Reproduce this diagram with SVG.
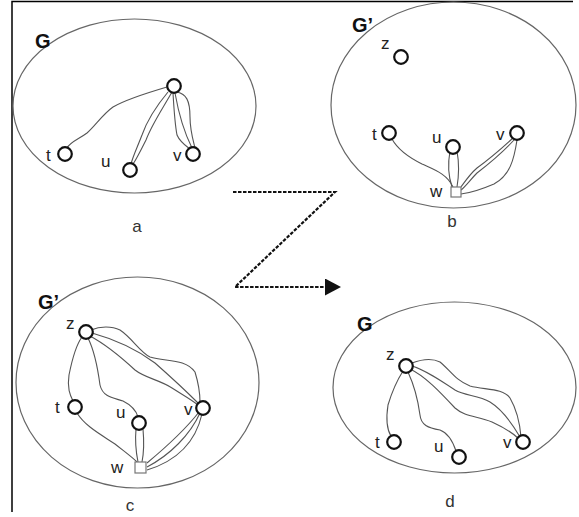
<svg xmlns="http://www.w3.org/2000/svg" width="579" height="517" viewBox="0 0 579 517">
<defs>
<style>
.frame{stroke:#000;stroke-width:1.5;fill:none}
.ell{fill:none;stroke:#666;stroke-width:1.2}
.nd{fill:#fff;stroke:#111;stroke-width:2.2}
.sq{fill:#fff;stroke:#777;stroke-width:1.2}
.e{fill:none;stroke:#555;stroke-width:1.1}
.lbl{font-family:"Liberation Sans",Arial,sans-serif;font-size:17px;fill:#222}
.big{font-family:"Liberation Sans",Arial,sans-serif;font-size:20px;font-weight:bold;fill:#111}
.cap{font-family:"Liberation Sans",Arial,sans-serif;font-size:17px;fill:#333;text-anchor:middle}
.arr{fill:none;stroke:#111;stroke-width:2.2;stroke-dasharray:3.5 1.5}
</style>
<marker id="ah" markerWidth="16" markerHeight="17" viewBox="0 0 16 17" refX="2" refY="8.5" orient="auto" markerUnits="userSpaceOnUse">
<path d="M0,0 L16,8.5 L0,17 Z" fill="#111"/>
</marker>
</defs>
<rect width="579" height="517" fill="#fff"/>
<path class="frame" d="M12,512 L12,1.5 L573,1.5"/>

<g id="panel-a">
<ellipse class="ell" cx="134.5" cy="106" rx="121.5" ry="87"/>
<text class="big" x="35" y="48">G</text>
<g id="a-edges">
<path class="e" d="M167,87 C150,92 125,100 113,107 C103,114 95,126 87,133 C79,139 70,142 67,148"/>
<path class="e" d="M168,92 C158,104 148,118 142,135 C137,148 133,156 131,164"/>
<path class="e" d="M172,92 C163,108 152,124 146,140 C140,152 136,160 133,164"/>
<path class="e" d="M173,93 C174,110 175,125 177,135 C180,142 186,146 190,149"/>
<path class="e" d="M175,93 C178,110 182,128 192,148"/>
<path class="e" d="M177,92 C186,94 190,100 190,117 C190,130 193,140 195,148"/>
</g>
<g id="a-top"><circle class="nd" cx="174" cy="86" r="6.8"/></g>
<g id="a-t"><circle class="nd" cx="65" cy="154" r="6.8"/><text class="lbl" x="46" y="161">t</text></g>
<g id="a-u"><circle class="nd" cx="130" cy="170" r="6.8"/><text class="lbl" x="101" y="167">u</text></g>
<g id="a-v"><circle class="nd" cx="193" cy="154" r="6.8"/><text class="lbl" x="173" y="161">v</text></g>
<text class="cap" x="137" y="232">a</text>
</g>

<g id="panel-b">
<ellipse class="ell" cx="453.5" cy="105" rx="122.5" ry="103"/>
<text class="big" x="352" y="32">G’</text>
<g id="b-edges">
<path class="e" d="M392,139 C398,150 410,158 422,164 C435,170 447,174 453,187"/>
<path class="e" d="M450,151 C448,162 448,175 452,187"/>
<path class="e" d="M457,151 C459,162 459,175 457,187"/>
<path class="e" d="M513,138 C500,150 488,160 477,168 C470,174 466,180 461,187"/>
<path class="e" d="M514,140 C503,152 490,163 477,173 C470,180 466,186 461,190"/>
<path class="e" d="M517,140 C514,160 510,175 494,184 C480,190 470,193 461,194"/>
</g>
<g id="b-z"><circle class="nd" cx="401" cy="57" r="6.8"/><text class="lbl" x="381" y="49">z</text></g>
<g id="b-t"><circle class="nd" cx="389" cy="133" r="6.8"/><text class="lbl" x="372" y="140">t</text></g>
<g id="b-u"><circle class="nd" cx="453" cy="147" r="6.8"/><text class="lbl" x="432" y="143">u</text></g>
<g id="b-v"><circle class="nd" cx="517" cy="133" r="6.8"/><text class="lbl" x="496" y="140">v</text></g>
<g id="b-w"><rect class="sq" x="451" y="187" width="10" height="10"/><text class="lbl" x="430" y="197">w</text></g>
<text class="cap" x="452" y="227">b</text>
</g>

<g id="panel-c">
<ellipse class="ell" cx="137.5" cy="382.5" rx="121.5" ry="105.5"/>
<text class="big" x="38" y="309">G’</text>
<g id="c-edges">
<path class="e" d="M82,337 C76,345 72,360 69,375 C67,388 70,395 73,401"/>
<path class="e" d="M88,338 C95,352 98,370 100,385 C103,398 115,398 123,401 C131,405 136,410 138,417"/>
<path class="e" d="M91,330 C100,326 112,326 120,330 C132,338 140,352 150,357 C165,362 185,358 195,372 C199,385 200,395 200,402"/>
<path class="e" d="M92,333 C110,338 135,348 155,363 C172,378 185,390 198,403"/>
<path class="e" d="M90,336 C105,344 122,358 135,370 C145,378 160,380 172,388 C183,395 192,400 198,405"/>
<path class="e" d="M77,413 C85,426 100,434 115,444 C125,452 132,457 137,462"/>
<path class="e" d="M136,429 C135,440 136,452 138,462"/>
<path class="e" d="M143,429 C144,440 144,452 142,462"/>
<path class="e" d="M199,412 C185,430 165,448 147,463"/>
<path class="e" d="M200,413 C190,435 170,455 147,467"/>
<path class="e" d="M202,414 C196,440 180,460 147,470"/>
</g>
<g id="c-z"><circle class="nd" cx="86" cy="332" r="6.8"/><text class="lbl" x="66" y="329">z</text></g>
<g id="c-t"><circle class="nd" cx="75" cy="407" r="6.8"/><text class="lbl" x="55" y="413">t</text></g>
<g id="c-u"><circle class="nd" cx="139" cy="423" r="6.8"/><text class="lbl" x="116" y="418">u</text></g>
<g id="c-v"><circle class="nd" cx="203" cy="408" r="6.8"/><text class="lbl" x="184" y="415">v</text></g>
<g id="c-w"><rect class="sq" x="135" y="462" width="11" height="11"/><text class="lbl" x="111" y="473">w</text></g>
<text class="cap" x="130" y="511">c</text>
</g>

<g id="panel-d">
<ellipse class="ell" cx="454.5" cy="387.5" rx="121.5" ry="85.5"/>
<text class="big" x="357" y="331">G</text>
<g id="d-edges">
<path class="e" d="M403,371 C396,382 391,395 388,405 C386,418 386,428 391,436"/>
<path class="e" d="M408,372 C414,385 418,400 420,415 C421,425 428,428 440,430 C448,433 453,442 456,451"/>
<path class="e" d="M412,363 C420,360 430,357 440,362 C450,370 455,380 470,386 C485,390 503,388 510,398 C517,410 520,425 521,437"/>
<path class="e" d="M412,366 C425,370 440,380 455,390 C465,396 478,395 490,402 C503,410 513,425 520,437"/>
<path class="e" d="M410,369 C425,376 440,392 455,408 C465,417 478,416 492,422 C505,428 513,433 519,439"/>
</g>
<g id="d-z"><circle class="nd" cx="406" cy="366" r="6.8"/><text class="lbl" x="386" y="360">z</text></g>
<g id="d-t"><circle class="nd" cx="394" cy="442" r="6.8"/><text class="lbl" x="375" y="448">t</text></g>
<g id="d-u"><circle class="nd" cx="459" cy="457" r="6.8"/><text class="lbl" x="434" y="452">u</text></g>
<g id="d-v"><circle class="nd" cx="523" cy="442" r="6.8"/><text class="lbl" x="503" y="448">v</text></g>
<text class="cap" x="450" y="507">d</text>
</g>

<g id="connectors">
<path class="arr" d="M233,192 L335,192 L235,287 L327,287" marker-end="url(#ah)"/>
</g>
</svg>
